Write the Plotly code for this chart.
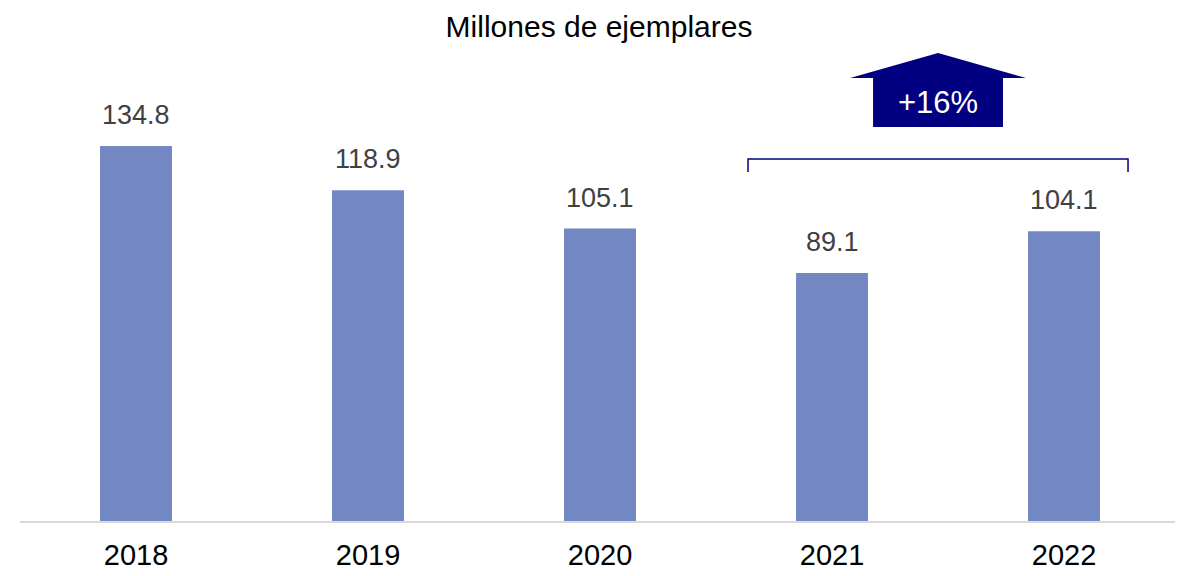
import plotly.graph_objects as go

# Data
years = ["2018", "2019", "2020", "2021", "2022"]
copies = [134.8, 118.9, 105.1, 89.1, 104.1]
labels = ["134.8", "118.9", "105.1", "89.1", "104.1"]
growth_text = "+16%"

FONT = "Liberation Sans Narrow, Arial Narrow, Liberation Sans, Arial"
BAR = "#7388C3"
NAVY = "#000080"

pos = list(range(len(years)))

fig = go.Figure(go.Bar(x=pos, y=copies, marker_color=BAR, marker_line_width=0,
                       hoverinfo="skip"))

# Value labels above each bar
for p, v, t in zip(pos, copies, labels):
    fig.add_annotation(x=p, y=v, text=t, showarrow=False, yanchor="bottom",
                       yshift=14, font=dict(family=FONT, size=27, color="#404040"))

# Arrow (pentagon) over 2021-2022
ax_l, ax_r = 3.078, 3.836
bx_l, bx_r = 3.177, 3.737
apex_x = 3.457
fig.add_shape(type="path",
              path=f"M {bx_l} 141.6 L {bx_l} 159.2 L {ax_l} 159.2 L {apex_x} 168.2 "
                   f"L {ax_r} 159.2 L {bx_r} 159.2 L {bx_r} 141.6 Z",
              fillcolor=NAVY, line_width=0, xref="x", yref="y")
fig.add_annotation(x=apex_x, y=150.3, text=growth_text, showarrow=False,
                   font=dict(family=FONT, size=31, color="white"))

# Bracket
fig.add_shape(type="path", path="M 2.638 125.4 L 2.638 130.1 L 4.276 130.1 L 4.276 125.4",
              line=dict(color=NAVY, width=1.5), xref="x", yref="y")

# page body has an 8px margin, so the figure is a bit smaller than the window
fig.update_layout(
    width=1175, height=568,
    margin=dict(l=12, r=3, t=40, b=55),
    paper_bgcolor="white", plot_bgcolor="white",
    bargap=0.69, showlegend=False,
    title=dict(text="Millones de ejemplares", x=0.503, xanchor="center", y=0.968,
               yanchor="middle", font=dict(family=FONT, size=30, color="black")),
)
fig.update_xaxes(range=[-0.5, len(years) - 0.5], tickvals=pos, ticktext=years,
                 showline=True, linecolor="#D9D9D9", linewidth=2, ticks="",
                 ticklabelstandoff=7,
                 tickfont=dict(family=FONT, size=29, color="black"),
                 showgrid=False, zeroline=False)
fig.update_yaxes(range=[0, 170], visible=False, showgrid=False, zeroline=False)

fig.write_html("out.html")
